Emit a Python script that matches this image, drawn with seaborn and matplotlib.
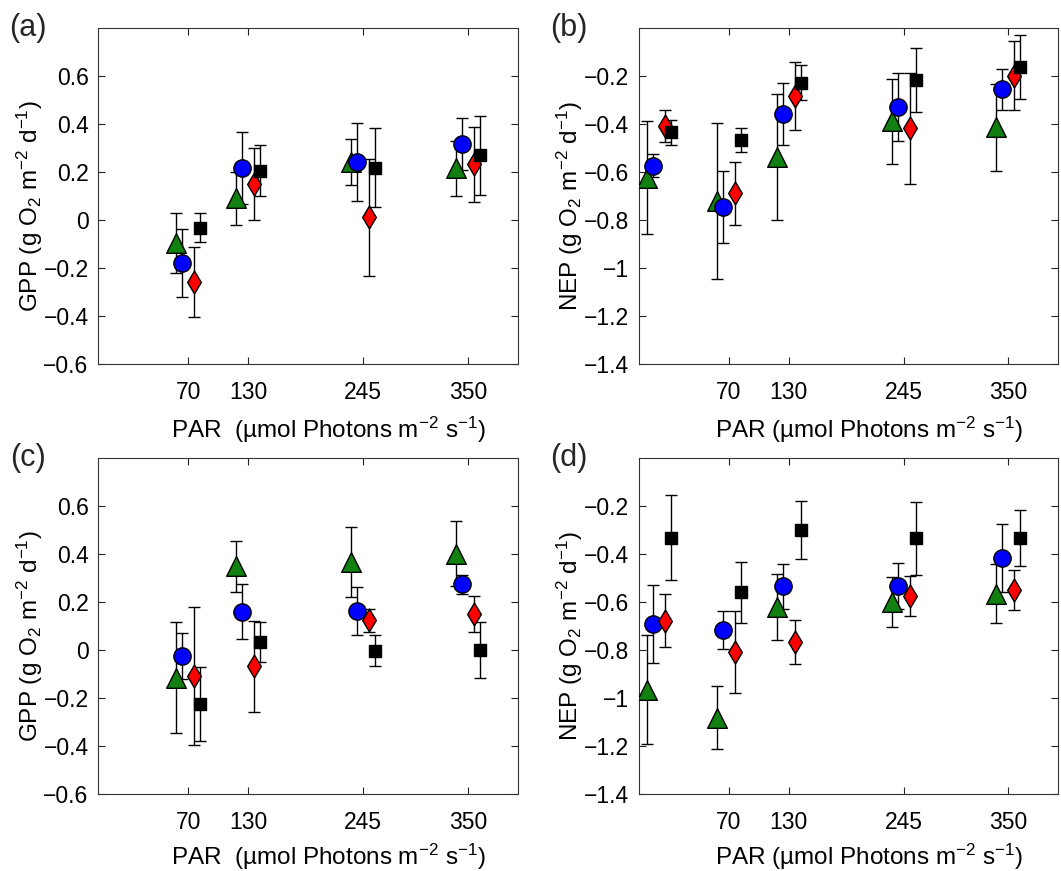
import numpy as np
import pandas as pd
import matplotlib
matplotlib.use("Agg")
import matplotlib.pyplot as plt
import seaborn as sns

# ---------------- data ----------------
par_gpp = [70, 130, 245, 350]
par_nep = [0, 70, 130, 245, 350]
x_tick_vals = [70, 130, 245, 350]
x_tick_labels = ["70", "130", "245", "350"]

gpp_yticks = [-0.6, -0.4, -0.2, 0, 0.2, 0.4, 0.6]
gpp_ytick_labels = ["\u22120.6", "\u22120.4", "\u22120.2", "0", "0.2", "0.4", "0.6"]
nep_yticks = [-1.4, -1.2, -1.0, -0.8, -0.6, -0.4, -0.2]
nep_ytick_labels = ["\u22121.4", "\u22121.2", "\u22121", "\u22120.8", "\u22120.6", "\u22120.4", "\u22120.2"]

series_names = ["triangle", "circle", "diamond", "square"]

# panel (a) GPP
a_tri = [-0.095, 0.09, 0.24, 0.215]
a_tri_err = [0.125, 0.11, 0.095, 0.115]
a_circ = [-0.178, 0.215, 0.241, 0.316]
a_circ_err = [0.142, 0.15, 0.164, 0.108]
a_diam = [-0.258, 0.15, 0.012, 0.231]
a_diam_err = [0.146, 0.15, 0.243, 0.157]
a_sq = [-0.032, 0.205, 0.218, 0.27]
a_sq_err = [0.06, 0.106, 0.166, 0.164]

# panel (b) NEP
b_tri = [-0.625, -0.72, -0.538, -0.39, -0.415]
b_tri_err = [0.235, 0.325, 0.262, 0.175, 0.18]
b_circ = [-0.574, -0.745, -0.357, -0.33, -0.257]
b_circ_err = [0.047, 0.15, 0.129, 0.141, 0.085]
b_diam = [-0.409, -0.689, -0.283, -0.419, -0.2]
b_diam_err = [0.068, 0.13, 0.141, 0.23, 0.143]
b_sq = [-0.436, -0.467, -0.229, -0.218, -0.163]
b_sq_err = [0.052, 0.05, 0.073, 0.134, 0.133]

# panel (c) GPP
c_tri = [-0.115, 0.348, 0.366, 0.401]
c_tri_err = [0.23, 0.105, 0.144, 0.135]
c_circ = [-0.025, 0.159, 0.162, 0.273]
c_circ_err = [0.095, 0.114, 0.098, 0.04]
c_diam = [-0.11, -0.068, 0.123, 0.151]
c_diam_err = [0.287, 0.19, 0.048, 0.075]
c_sq = [-0.225, 0.035, -0.003, 0.0]
c_sq_err = [0.154, 0.083, 0.064, 0.118]

# panel (d) NEP
d_tri = [-0.965, -1.081, -0.62, -0.6, -0.565]
d_tri_err = [0.226, 0.133, 0.137, 0.105, 0.121]
d_circ = [-0.692, -0.717, -0.535, -0.534, -0.418]
d_circ_err = [0.161, 0.08, 0.094, 0.096, 0.142]
d_diam = [-0.678, -0.81, -0.767, -0.574, -0.55]
d_diam_err = [0.111, 0.171, 0.092, 0.083, 0.083]
d_sq = [-0.333, -0.56, -0.3, -0.336, -0.333]
d_sq_err = [0.176, 0.128, 0.12, 0.152, 0.116]

# ---------------- style ----------------
sns.set_theme(style="ticks")
plt.rcParams["font.family"] = ["Liberation Sans", "DejaVu Sans"]
plt.rcParams["mathtext.fontset"] = "custom"
plt.rcParams["mathtext.rm"] = "Liberation Sans"
plt.rcParams["mathtext.it"] = "Liberation Sans:italic"
plt.rcParams["mathtext.bf"] = "Liberation Sans:bold"

offsets = {"triangle": -12, "circle": -6, "diamond": 6, "square": 12}
markers = {"triangle": "^", "circle": "o", "diamond": "d", "square": "s"}
colors = {"triangle": "#118011", "circle": "#0000ff", "diamond": "#ff0000", "square": "#000000"}
sizes = {"triangle": 200, "circle": 155, "diamond": 135, "square": 80}


def make_df(par, vals, errs):
    rows = []
    for name, v, e in zip(series_names, vals, errs):
        for p, yy, ee in zip(par, v, e):
            rows.append({"series": name, "PAR": p, "x": p + offsets[name], "y": yy, "err": ee})
    return pd.DataFrame(rows)


panels = [
    dict(par=par_gpp, vals=[a_tri, a_circ, a_diam, a_sq], errs=[a_tri_err, a_circ_err, a_diam_err, a_sq_err],
         kind="GPP", label="(a)", xlabel="PAR  (\u00b5mol Photons m$^{-2}$ s$^{-1}$)"),
    dict(par=par_nep, vals=[b_tri, b_circ, b_diam, b_sq], errs=[b_tri_err, b_circ_err, b_diam_err, b_sq_err],
         kind="NEP", label="(b)", xlabel="PAR (\u00b5mol Photons m$^{-2}$ s$^{-1}$)"),
    dict(par=par_gpp, vals=[c_tri, c_circ, c_diam, c_sq], errs=[c_tri_err, c_circ_err, c_diam_err, c_sq_err],
         kind="GPP", label="(c)", xlabel="PAR  (\u00b5mol Photons m$^{-2}$ s$^{-1}$)"),
    dict(par=par_nep, vals=[d_tri, d_circ, d_diam, d_sq], errs=[d_tri_err, d_circ_err, d_diam_err, d_sq_err],
         kind="NEP", label="(d)", xlabel="PAR (\u00b5mol Photons m$^{-2}$ s$^{-1}$)"),
]

W, H = 1061, 871
fig = plt.figure(figsize=(W / 100, H / 100), dpi=100)
fig.patch.set_facecolor("white")

lefts = [98.3, 638.7, 98.3, 638.7]
tops = [27.7, 27.7, 457.7, 457.7]
xlabel_y = [-0.15, -0.15, -0.14, -0.14]
aw, ah = 419.7, 336.5

for i, pan in enumerate(panels):
    l, t = lefts[i], tops[i]
    ax = fig.add_axes([l / W, 1 - (t + ah) / H, aw / W, ah / H])
    df = make_df(pan["par"], pan["vals"], pan["errs"])
    for name in series_names:
        sub = df[df["series"] == name]
        ax.errorbar(sub["x"], sub["y"], yerr=sub["err"], fmt="none", ecolor="black",
                    elinewidth=1.0, capsize=4.5, capthick=1.0, zorder=1)
    for name in series_names:
        sub = df[df["series"] == name]
        sns.scatterplot(data=sub, x="x", y="y", marker=markers[name], color=colors[name],
                        s=sizes[name], edgecolor="black", linewidth=1.0, ax=ax, zorder=3, legend=False)
    ax.set_xlim(-20, 400)
    if pan["kind"] == "GPP":
        ax.set_ylim(-0.6, 0.8)
        ax.set_yticks(gpp_yticks)
        ax.set_yticklabels(gpp_ytick_labels)
        ylabel = "GPP (g O$_2$ m$^{-2}$ d$^{-1}$)"
    else:
        ax.set_ylim(-1.4, 0.0)
        ax.set_yticks(nep_yticks)
        ax.set_yticklabels(nep_ytick_labels)
        ylabel = "NEP (g O$_2$ m$^{-2}$ d$^{-1}$)"
    ax.set_xticks(x_tick_vals)
    ax.set_xticklabels(x_tick_labels)
    ax.tick_params(direction="in", top=True, right=True, length=5, width=0.8,
                   labelsize=16.5, colors="#222222", labelcolor="black")
    ax.tick_params(axis="x", pad=12)
    ax.tick_params(axis="y", pad=7)
    for sp in ax.spines.values():
        sp.set_color("#333333")
        sp.set_linewidth(0.8)
    ax.set_xlabel(pan["xlabel"], fontsize=17.5, color="black")
    ax.xaxis.set_label_coords(0.548, xlabel_y[i])
    ax.set_ylabel(ylabel, fontsize=17.5, color="black")
    ax.yaxis.set_label_coords(-0.128, 0.47)
    fig.text((l - 70) / W, 1 - (t + 0) / H, pan["label"], fontsize=22, ha="center", va="center")

fig.savefig("out.png", dpi=100)
